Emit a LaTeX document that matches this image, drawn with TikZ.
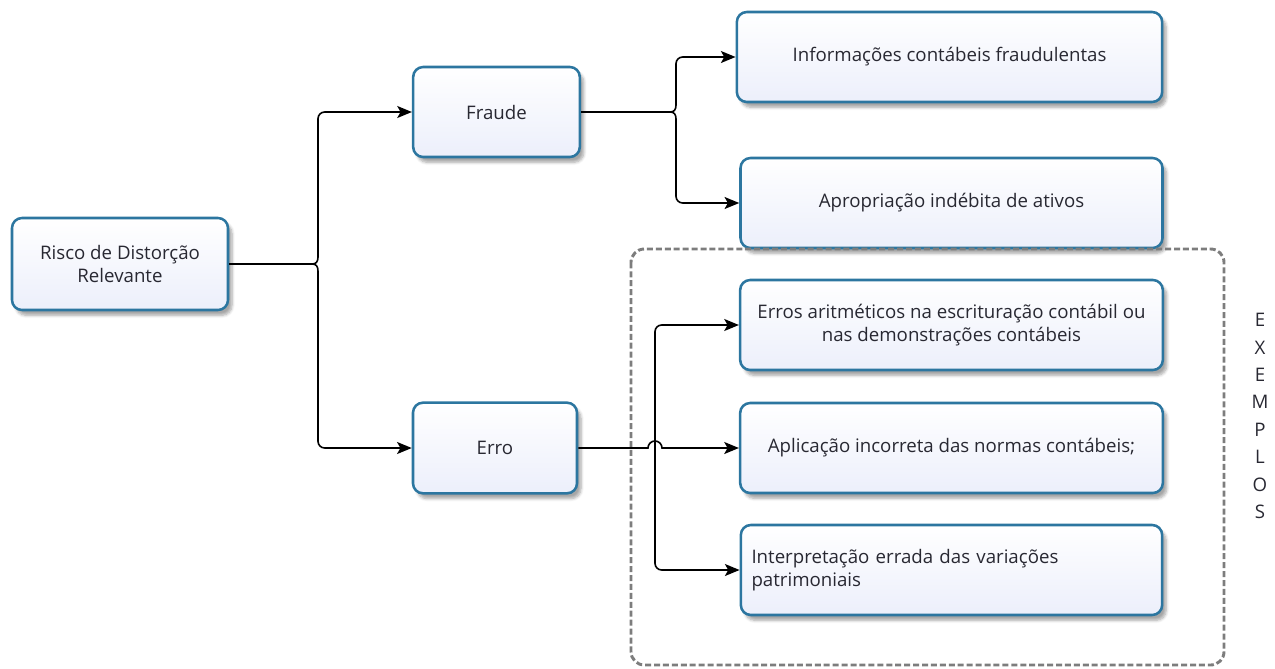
\documentclass[tikz,border=0pt]{standalone}
\usepackage{fontspec}
\setmainfont{Open Sans}
\usetikzlibrary{arrows.meta,shadows.blur}
\definecolor{bord}{RGB}{44,118,160}
\definecolor{fillb}{RGB}{236,239,251}
\definecolor{txt}{RGB}{40,40,50}
\definecolor{dashg}{RGB}{125,125,125}
\tikzset{
  box/.style={draw=bord, line width=1.9pt, rounded corners=7.5pt,
    top color=white, bottom color=fillb, text=txt, font=\fontsize{14}{17}\selectfont,
    align=center, inner sep=2pt,
    blur shadow={shadow blur steps=6, shadow xshift=3pt, shadow yshift=-4pt, shadow opacity=35}},
  conn/.style={line width=1.2pt, black},
  tip/.style={-{Stealth[length=11pt,width=9pt,inset=2.5pt]}},
  arr/.style={conn, rounded corners=5pt, tip},
  letter/.style={text=txt, font=\fontsize{14}{16}\selectfont}
}
\begin{document}
\begin{tikzpicture}[x=0.75pt,y=-0.75pt]
\useasboundingbox (0,0) rectangle (1275,668);
% boxes
\node[box, minimum width=162pt, minimum height=69pt] (risco) at (120,264) {Risco de Distorção\\Relevante};
\node[box, minimum width=125pt, minimum height=67.5pt] (fraude) at (496.5,112) {Fraude};
\node[box, minimum width=123pt, minimum height=68pt] (erro) at (495,448) {Erro};
\node[box, minimum width=319pt, minimum height=67.5pt] (info) at (949.5,57) {Informações contábeis fraudulentas};
\node[box, minimum width=316.5pt, minimum height=67.5pt] (aprop) at (951.5,203) {Apropriação indébita de ativos};
\node[box, minimum width=317pt, minimum height=67.5pt] (erros) at (951.5,325) {Erros aritméticos na escrituração contábil ou\\nas demonstrações contábeis};
\node[box, minimum width=317pt, minimum height=67.5pt] (aplic) at (951.5,448) {Aplicação incorreta das normas contábeis;};
\node[box, minimum width=316pt, minimum height=67.5pt, text width=300pt, align=left] (interp) at (951.5,570) {Interpretação errada das variações\\patrimoniais\\[6pt]};
% dashed group
\draw[dashg, line width=2.2pt, dash pattern=on 4.5pt off 2.2pt, rounded corners=10pt] (631,249) rectangle (1224,665);
% EXEMPLOS
\foreach \l [count=\i] in {E,X,E,M,P,L,O,S}
  \node[letter] (ex\i) at (1260,320+27.4*\i-27.4) {\l};
% connectors from Risco
\draw[conn] (risco.east) -- (312,264) coordinate (k1);
\draw[conn] (k1) .. controls (316,264) and (318,262) .. (318,257) coordinate (k1a);
\draw[conn] (k1) .. controls (316,264) and (318,266) .. (318,271) coordinate (k1b);
\draw[arr] (k1a) |- (fraude.west);
\draw[arr] (k1b) |- (erro.west);
% connectors from Fraude
\draw[conn] (fraude.east) -- (670,112) coordinate (k2);
\draw[conn] (k2) .. controls (674,112) and (676,110) .. (676,105) coordinate (k2a);
\draw[conn] (k2) .. controls (674,112) and (676,114) .. (676,119) coordinate (k2b);
\draw[arr] (k2a) |- (info.west);
\draw[arr] (k2b) |- (aprop.west);
% connectors from Erro
\coordinate (k3) at (655,448);
\draw[arr] (k3) |- (erros.west);
\draw[arr] (k3) |- (interp.west);
\draw[conn, tip, sharp corners] (erro.east) -- (648,448) arc[start angle=180, end angle=360, radius=7] -- (aplic.west);
\end{tikzpicture}
\end{document}
